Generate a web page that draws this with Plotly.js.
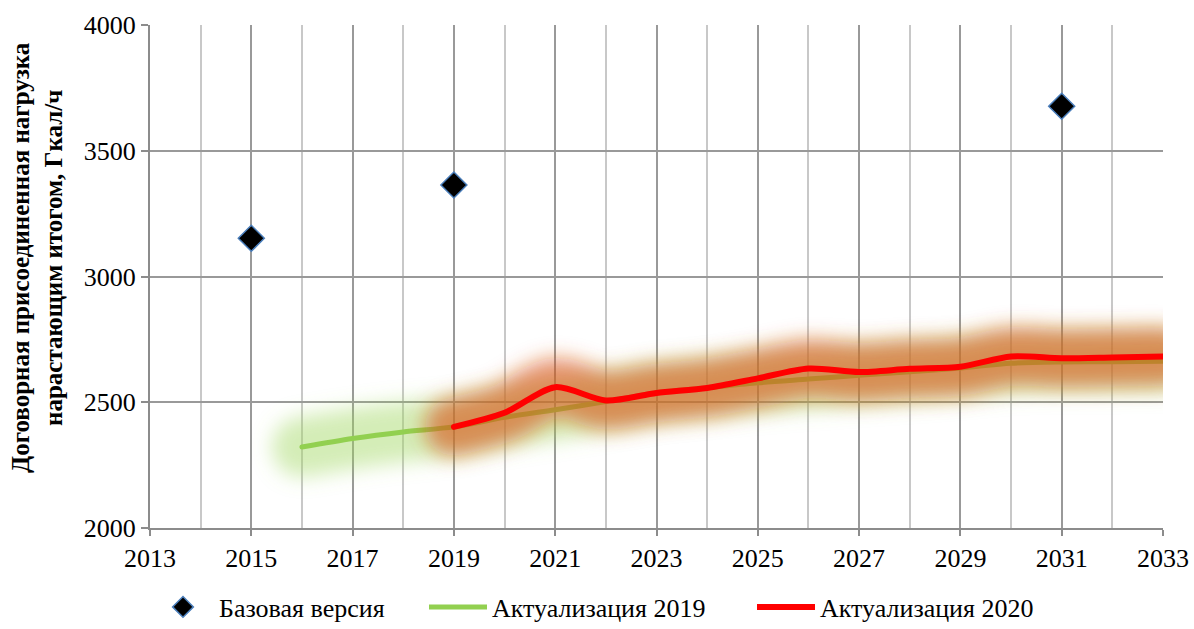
<!DOCTYPE html>
<html>
<head>
<meta charset="utf-8">
<script src="https://cdn.plot.ly/plotly-3.0.1.min.js"></script>
<style>html,body{margin:0;padding:0;background:#fff;}#chart{width:1194px;height:629px;}</style>
</head>
<body>
<div id="chart"></div>
<script>
// Data
const baseYears = [2015, 2019, 2031];
const baseValues = [3152, 3364, 3677];

const act2019Years = [2016, 2017, 2018, 2019, 2020, 2021, 2022, 2023, 2024, 2025, 2026, 2027, 2028, 2029, 2030, 2031, 2032, 2033];
const act2019Values = [2322, 2356, 2382, 2402, 2440, 2470, 2503, 2538, 2557, 2577, 2592, 2607, 2621, 2636, 2655, 2660, 2661, 2663];

const act2020Years = [2019, 2020, 2021, 2022, 2023, 2024, 2025, 2026, 2027, 2028, 2029, 2030, 2031, 2032, 2033];
const act2020Values = [2402, 2458, 2560, 2507, 2537, 2557, 2595, 2634, 2620, 2633, 2641, 2682, 2675, 2678, 2682];

const seriesNames = ['Базовая версия', 'Актуализация 2019', 'Актуализация 2020'];
const yTitle = 'Договорная присоединенная нагрузка<br>нарастающим итогом, Гкал/ч';

const font = 'Liberation Serif, Times New Roman, serif';

const traces = [
  { // soft glow of the 2019 line
    x: act2019Years, y: act2019Values, type: 'scatter', mode: 'lines',
    line: {color: 'rgba(160,215,95,0.45)', width: 60, shape: 'spline', smoothing: 0.8},
    hoverinfo: 'skip', showlegend: false, meta: 'glow'
  },
  {
    x: act2019Years, y: act2019Values, type: 'scatter', mode: 'lines',
    name: seriesNames[1], legend: 'legend2',
    line: {color: '#92d050', width: 5, shape: 'spline', smoothing: 0.8}
  },
  { // soft glow of the 2020 line
    x: act2020Years, y: act2020Values, type: 'scatter', mode: 'lines',
    line: {color: 'rgba(217,80,22,0.6)', width: 58, shape: 'spline', smoothing: 0.8},
    hoverinfo: 'skip', showlegend: false, meta: 'glow'
  },
  {
    x: act2020Years, y: act2020Values, type: 'scatter', mode: 'lines',
    name: seriesNames[2], legend: 'legend3',
    line: {color: '#ff0000', width: 6, shape: 'spline', smoothing: 0.8}
  },
  {
    x: baseYears, y: baseValues, type: 'scatter', mode: 'markers',
    name: seriesNames[0], legend: 'legend',
    marker: {symbol: 'diamond', size: 20, color: '#000000', line: {color: '#4a7ebb', width: 1.5}}
  }
];

const legendBase = {orientation: 'h', yref: 'container', y: 0.035, yanchor: 'middle',
                    xref: 'container', xanchor: 'left', bgcolor: 'rgba(0,0,0,0)',
                    font: {family: font, size: 26, color: '#000'}};

const layout = {
  width: 1194, height: 629,
  margin: {l: 150, r: 31, t: 25, b: 101, autoexpand: false},
  paper_bgcolor: '#fff', plot_bgcolor: '#fff',
  font: {family: font, size: 26, color: '#000'},
  showlegend: true,
  legend: Object.assign({}, legendBase, {x: 147 / 1194, itemwidth: 62}),
  legend2: Object.assign({}, legendBase, {x: 424 / 1194, itemwidth: 58}),
  legend3: Object.assign({}, legendBase, {x: 752 / 1194, itemwidth: 58}),
  xaxis: {
    range: [2013, 2033], dtick: 2, tick0: 2013,
    showgrid: true, gridcolor: '#999999', gridwidth: 2,
    minor: {dtick: 1, tick0: 2013, showgrid: true, gridcolor: '#c8c8c8', gridwidth: 2},
    showline: true, linecolor: '#8c8c8c', linewidth: 2,
    ticks: 'outside', ticklen: 6, tickcolor: '#8c8c8c', tickwidth: 2,
    zeroline: false, fixedrange: true, automargin: false,
    tickfont: {family: font, size: 26}
  },
  yaxis: {
    range: [2000, 4000], dtick: 500,
    showgrid: true, gridcolor: '#999999', gridwidth: 2,
    showline: true, linecolor: '#8c8c8c', linewidth: 2,
    ticks: 'outside', ticklen: 7, tickcolor: '#8c8c8c', tickwidth: 2,
    zeroline: false, fixedrange: true, automargin: false,
    tickfont: {family: font, size: 26}
  },
  annotations: [{
    text: '<b>' + yTitle + '</b>', textangle: -90,
    xref: 'paper', yref: 'paper', x: (37 - 150) / 1013, y: (528 - 258) / 503,
    xanchor: 'center', yanchor: 'middle', showarrow: false,
    font: {family: font, size: 25, color: '#000'}
  }]
};

Plotly.newPlot('chart', traces, layout, {displayModeBar: false, staticPlot: true}).then(gd => {
  // soften the glow traces with a gaussian blur filter
  const svg = gd.querySelector('svg.main-svg');
  const NS = 'http://www.w3.org/2000/svg';
  let defs = svg.querySelector('defs');
  if (!defs) { defs = document.createElementNS(NS, 'defs'); svg.insertBefore(defs, svg.firstChild); }
  const filter = document.createElementNS(NS, 'filter');
  filter.setAttribute('id', 'glowblur');
  filter.setAttribute('x', '-20%'); filter.setAttribute('y', '-100%');
  filter.setAttribute('width', '140%'); filter.setAttribute('height', '300%');
  const blur = document.createElementNS(NS, 'feGaussianBlur');
  blur.setAttribute('stdDeviation', '10');
  filter.appendChild(blur);
  defs.appendChild(filter);
  const traceGroups = gd.querySelectorAll('.scatterlayer .trace');
  traceGroups.forEach((g, i) => {
    g.querySelectorAll('path.js-line').forEach(p => {
      p.style.strokeLinecap = 'round';
      if (traces[i] && traces[i].meta === 'glow') p.setAttribute('filter', 'url(#glowblur)');
    });
  });
});
</script>
</body>
</html>
